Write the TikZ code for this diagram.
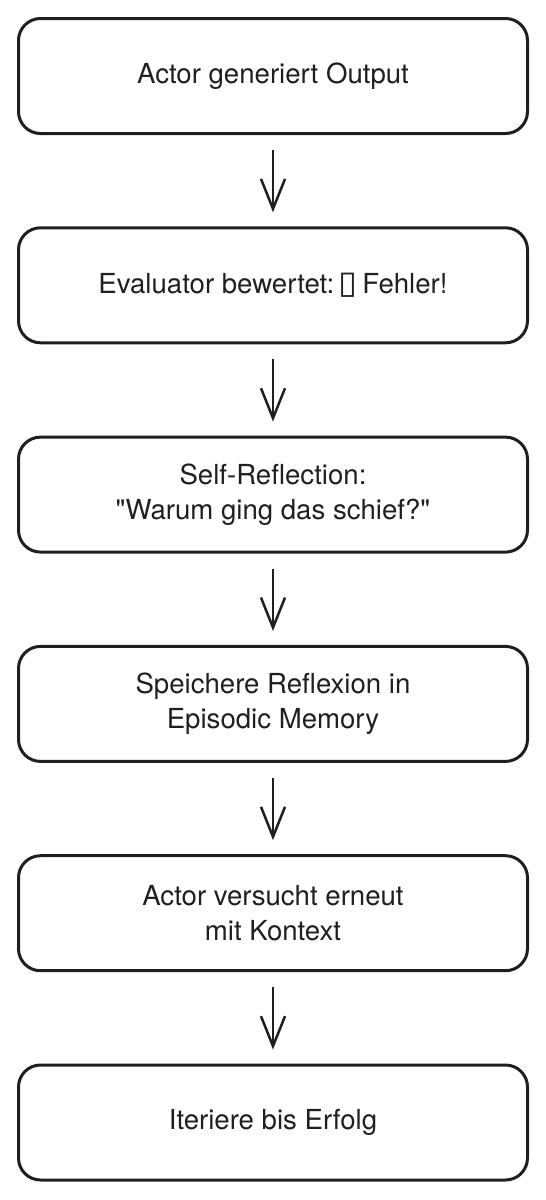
\documentclass[tikz,border=0pt]{standalone}
\usepackage{fontspec}
\usepackage{graphicx}
\setmainfont{TeX Gyre Heros}
\newfontfamily\tofufont{DejaVu Sans}
\usetikzlibrary{arrows.meta, positioning, shapes}
\tikzset
{%
stepbox/.style={draw=black!88, rectangle, rounded corners=11pt, line width=1.5pt,
	minimum width=254.5pt, minimum height=57.5pt, align=center, text=black!88,
	font=\fontsize{13.8}{17.5}\selectfont},
flow/.style={line width=1.25pt, draw=black!88, shorten <=7.5pt, shorten >=7pt,
	-{Straight Barb[length=15pt, width=12pt, line width=1.25pt]}}
}
\newcommand{\tofu}{\raisebox{-0.2pt}{\scalebox{1.25}[1.15]{\tofufont\bfseries\char"25AF}}}
\begin{document}
\begin{tikzpicture}[node distance=45.65pt]
	\useasboundingbox (0,0) rectangle (273pt,-600pt);
	
		% BOXES
		\node[stepbox] at (136.5pt,-38pt) (actor) {Actor generiert Output};
		\node[stepbox, below=of actor] (eval) {Evaluator bewertet:\,\tofu\,Fehler!};
		\node[stepbox, below=of eval] (refl) {Self-Reflection:\\\textquotedbl Warum ging das schief?\textquotedbl};
		\node[stepbox, below=of refl] (mem) {Speichere Reflexion in\\Episodic Memory};
		\node[stepbox, below=of mem] (retry) {Actor versucht erneut\\mit Kontext};
		\node[stepbox, below=of retry] (iter) {Iteriere bis Erfolg};
		
		% ARROWS
		\path[flow] (actor) edge (eval)
		(eval) edge (refl)
		(refl) edge (mem)
		(mem) edge (retry)
		(retry) edge (iter);
	\end{tikzpicture}
\end{document}
